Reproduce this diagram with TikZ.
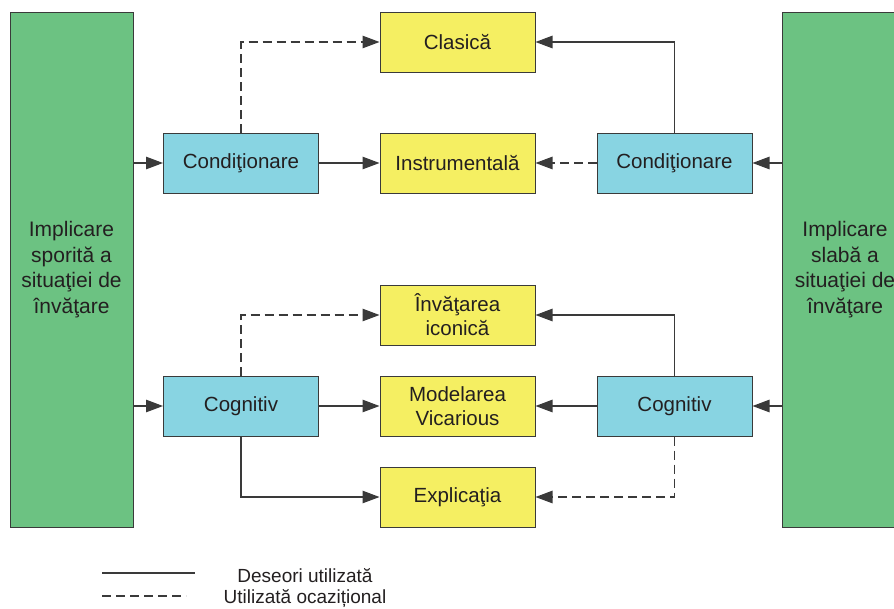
\documentclass[tikz,border=0pt]{standalone}
\usepackage{fontspec}
\setmainfont{Liberation Sans}
\usetikzlibrary{arrows.meta}
\definecolor{grn}{HTML}{6CC282}
\definecolor{blu}{HTML}{88D4E2}
\definecolor{ylw}{HTML}{F5EF62}
\definecolor{edge}{HTML}{3A3A3A}
\definecolor{txt}{HTML}{231F20}
\tikzset{
  box/.style={draw=edge, line width=1pt, rectangle, inner sep=0pt, align=center,
    font=\fontsize{20.5}{24}\selectfont, text=txt},
  greenbox/.style={box, fill=grn, minimum height=515pt, font=\fontsize{21}{25.5}\selectfont},
  bluebox/.style={box, fill=blu, minimum width=155pt, minimum height=60pt},
  yellowbox/.style={box, fill=ylw, minimum width=155pt, minimum height=60pt},
  conn/.style={draw=edge, line width=1.1pt},
  arr/.style={conn, -{Triangle[length=17pt,width=12.5pt]}},
  dsh/.style={dash pattern=on 9pt off 5pt},
  legtxt/.style={font=\fontsize{19}{22}\selectfont, text=txt}
}
\begin{document}
\begin{tikzpicture}[x=1pt,y=-1pt]
\useasboundingbox (0,0) rectangle (894,608);
% green side boxes
\node[greenbox, minimum width=123pt] (gL) at (71.5,269.5) {Implicare\\sporită a\\situaţiei de\\învăţare};
\node[greenbox, minimum width=126pt] (gR) at (845,269.5) {Implicare\\slabă a\\situaţiei de\\învăţare};
% blue boxes
\node[bluebox] (cL) at (241,163) {Condiţionare};
\node[bluebox] (cR) at (674.5,163) {Condiţionare};
\node[bluebox] (kL) at (241,406) {Cognitiv};
\node[bluebox] (kR) at (674.5,406) {Cognitiv};
% yellow boxes
\node[yellowbox] (clas) at (457.5,42) {Clasică};
\node[yellowbox] (instr) at (457.5,163) {Instrumentală};
\node[yellowbox] (icon) at (457.5,315) {Învăţarea\\iconică};
\node[yellowbox] (model) at (457.5,406) {Modelarea\\Vicarious};
\node[yellowbox] (expl) at (457.5,497) {Explicaţia};
% connectors from green boxes
\draw[arr] (cL.west -| gL.east) -- (cL.west);
\draw[arr] (kL.west -| gL.east) -- (kL.west);
\draw[arr] (cR.east -| gR.west) -- (cR.east);
\draw[arr] (kR.east -| gR.west) -- (kR.east);
% conditionare
\draw[arr] (cL.east) -- (instr.west);
\draw[arr, dsh] (cR.west) -- (instr.east);
\draw[arr, dsh] (cL.north) |- (clas.west);
\draw[arr] (cR.north) |- (clas.east);
% cognitiv
\draw[arr] (kL.east) -- (model.west);
\draw[arr] (kR.west) -- (model.east);
\draw[arr, dsh] (kL.north) |- (icon.west);
\draw[arr] (kR.north) |- (icon.east);
\draw[arr] (kL.south) |- (expl.west);
\draw[arr, dsh] (kR.south) |- (expl.east);
% legend
\coordinate (la1) at (102,573);
\coordinate (lb1) at (195,573);
\coordinate (la2) at (102,596);
\coordinate (lb2) at (186,596);
\draw[conn] (la1) -- (lb1);
\draw[conn, dsh] (la2) -- (lb2);
\node[legtxt] (t1) at (305,576) {Deseori utilizată};
\node[legtxt] (t2) at (305,599) {Utilizată ocazițional};
\end{tikzpicture}
\end{document}
